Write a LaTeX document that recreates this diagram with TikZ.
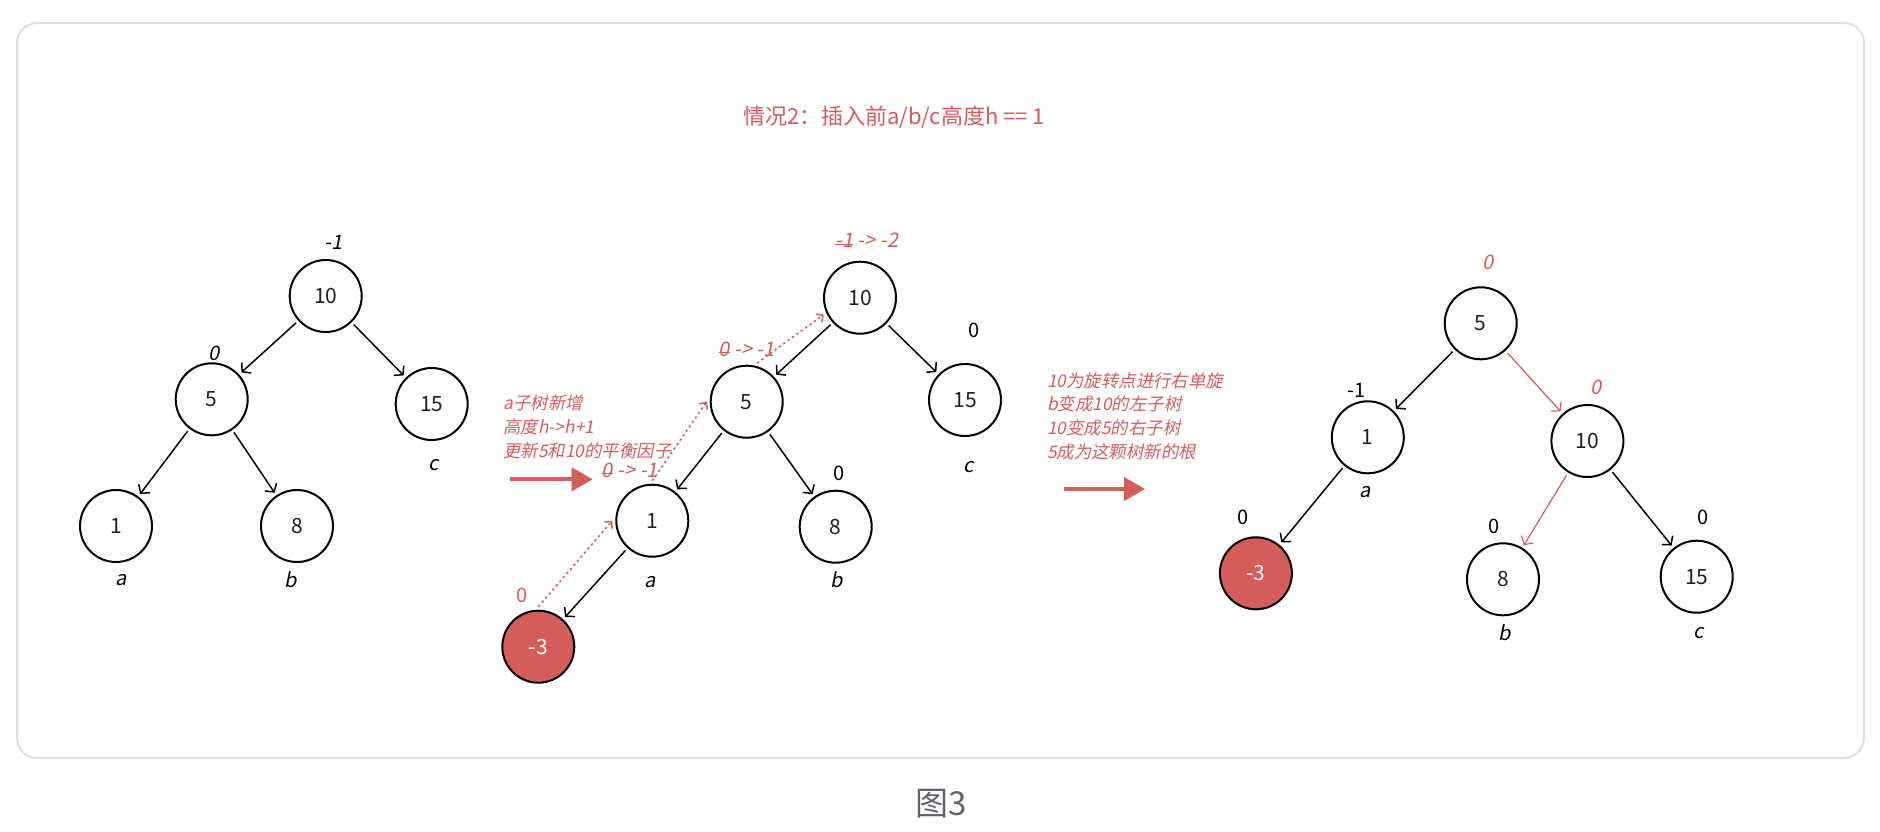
\documentclass[tikz,border=0pt]{standalone}
\usepackage{fontspec}
\setmainfont{Noto Sans CJK SC}
\newfontfamily\slantfont[FakeSlant=0.2]{Noto Sans CJK SC}
\usetikzlibrary{arrows.meta}
\definecolor{accent}{RGB}{212,93,90}
\definecolor{framegray}{RGB}{222,223,226}
\definecolor{capgray}{RGB}{96,100,106}
\definecolor{ink}{RGB}{30,30,35}
\newsavebox\strikebox
\newcommand\struck[1]{\sbox\strikebox{#1}\rlap{\rule[0.3ex]{\wd\strikebox}{0.6pt}}\usebox\strikebox}

\begin{document}
\begin{tikzpicture}[x=0.5pt, y=-0.5pt,
  treenode/.style={draw, circle, line width=1pt, minimum size=36pt, inner sep=0pt, outer sep=2pt, text=ink, font=\fontsize{10.5}{12}\selectfont},
  newnode/.style={fill=accent, text=white},
  bf/.style={inner sep=0pt, font=\fontsize{10}{12}\selectfont},
  bfit/.style={inner sep=0pt, font=\slantfont\fontsize{10}{12}\selectfont},
  sub/.style={inner sep=0pt, font=\slantfont\fontsize{10}{12}\selectfont},
  note/.style={anchor=west, inner sep=0pt, text=accent, font=\slantfont\fontsize{8.7}{10}\selectfont},
  edge/.style={-{Straight Barb[length=3pt,width=7pt]}, line width=0.75pt},
  redge/.style={edge, accent, line width=0.6pt},
  trace/.style={-{Straight Barb[length=2.5pt,width=5pt]}, accent, dash pattern=on 1.2pt off 1.5pt, line width=0.75pt},
  bigarrow/.style={accent, line width=2pt, -{Triangle[length=10.5pt,width=11.5pt]}}
]
\useasboundingbox (0,0) rectangle (1880,831);
\draw[framegray, line width=1pt, rounded corners=10pt] (17,23) rectangle (1864,758);
\node[text=accent, font=\fontsize{11}{13}\selectfont] (title) at (894,117) {情况2：插入前a/b/c高度h == 1};

\node[treenode] (a10) at (325.7,296) {10};
\node[treenode] (a5) at (211.7,399.3) {5};
\node[treenode] (a15) at (431.7,404) {15};
\node[treenode] (a1) at (116,526) {1};
\node[treenode] (a8) at (297,526) {8};
\node[bfit] (a10bf) at (334,242) {-1};
\node[bfit] (a5bf) at (214,353) {0};
\node[sub] (a15sub) at (434,465) {c};
\node[sub] (a1sub) at (120.7,580) {a};
\node[sub] (a8sub) at (290.7,580) {b};
\draw[edge] (a10) -- (a5);
\draw[edge] (a10) -- (a15);
\draw[edge] (a5) -- (a1);
\draw[edge] (a5) -- (a8);

\node[note] (insnote1) at (503,403.3) {a子树新增};
\node[note] (insnote2) at (503,427.3) {高度h->h+1};
\node[note] (insnote3) at (503,450.7) {更新5和10的平衡因子};
\coordinate (insfrom) at (510,479.3);
\coordinate (insto) at (592.7,479.3);
\draw[bigarrow] (insfrom) -- (insto);

\node[treenode] (b10) at (860,297.7) {10};
\node[treenode] (b5) at (746.7,401.7) {5};
\node[treenode] (b15) at (965,400) {15};
\node[treenode] (b1) at (652.3,520.7) {1};
\node[treenode] (b8) at (835.7,526.7) {8};
\node[treenode, newnode] (bm3) at (538.3,646.7) {-3};
\node[bfit, text=accent] (b10bf) at (866.7,240.7) {\struck{-1} -> -2};
\node[bfit, text=accent] (b5bf) at (746.7,349.3) {\struck{0} -> -1};
\node[bfit, text=accent] (b1bf) at (630,470) {\struck{0} -> -1};
\node[bf] (b15bf) at (974,330.7) {0};
\node[bf] (b8bf) at (839,473.3) {0};
\node[bf, text=accent] (bm3bf) at (521.7,595) {0};
\node[sub] (b15sub) at (968.3,466.7) {c};
\node[sub] (b1sub) at (650,581.7) {a};
\node[sub] (b8sub) at (836.7,580) {b};
\draw[edge] (b10) -- (b5);
\draw[edge] (b10) -- (b15);
\draw[edge] (b5) -- (b1);
\draw[edge] (b5) -- (b8);
\draw[edge] (b1) -- (bm3);
\draw[trace] (bm3.north) -- (b1.west);
\draw[trace] (b1.north) -- (b5.west);
\draw[trace] (b5.75) -- (b10.205);

\node[note] (rotnote1) at (1046.7,380.7) {10为旋转点进行右单旋};
\node[note] (rotnote2) at (1046.7,404) {b变成10的左子树};
\node[note] (rotnote3) at (1046.7,428.3) {10变成5的右子树};
\node[note] (rotnote4) at (1046.7,451.7) {5成为这颗树新的根};
\coordinate (rotfrom) at (1063.5,489);
\coordinate (rotto) at (1145,489);
\draw[bigarrow] (rotfrom) -- (rotto);

\node[treenode] (c5) at (1480.7,323.3) {5};
\node[treenode] (c1) at (1367.8,437.3) {1};
\node[treenode] (c10) at (1587.4,441) {10};
\node[treenode, newnode] (cm3) at (1255.9,573.3) {-3};
\node[treenode] (c8) at (1503,579.3) {8};
\node[treenode] (c15) at (1696.7,576.7) {15};
\node[bfit, text=accent] (c5bf) at (1488.5,262.7) {0};
\node[bf] (c1bf) at (1357,390.7) {-1};
\node[bfit, text=accent] (c10bf) at (1595.6,387.3) {0};
\node[bf] (cm3bf) at (1243,517.3) {0};
\node[bf] (c8bf) at (1494,526) {0};
\node[bf] (c15bf) at (1703.3,517.3) {0};
\node[sub] (c1sub) at (1365.2,491.7) {a};
\node[sub] (c8sub) at (1504.8,632.7) {b};
\node[sub] (c15sub) at (1698.5,633.3) {c};
\draw[edge] (c5) -- (c1);
\draw[redge] (c5) -- (c10);
\draw[edge] (c1) -- (cm3);
\draw[redge] (c10) -- (c8);
\draw[edge] (c10) -- (c15);

\node[text=capgray, font=\fontsize{16.5}{20}\selectfont] (caption) at (941,804) {图3};
\end{tikzpicture}
\end{document}
